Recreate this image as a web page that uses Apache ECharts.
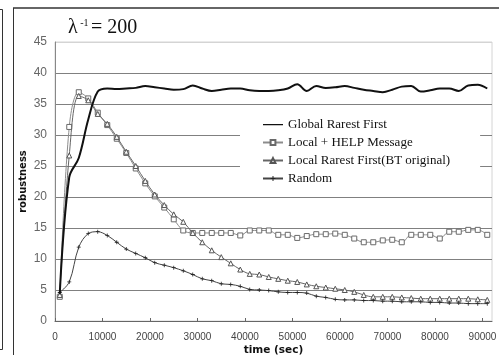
<!DOCTYPE html>
<html>
<head>
<meta charset="utf-8">
<script src="https://cdn.jsdelivr.net/npm/echarts@6/dist/echarts.min.js"></script>
<style>
  html, body { margin: 0; padding: 0; background: #fff; }
  #chart { width: 499px; height: 355px; }
</style>
</head>
<body>
<div id="chart"></div>
<script>
// sample times (sec), one point every 2000 s
const times = [1000, 3000, 5000, 7000, 9000, 11000, 13000, 15000, 17000, 19000,
  21000, 23000, 25000, 27000, 29000, 31000, 33000, 35000, 37000, 39000,
  41000, 43000, 45000, 47000, 49000, 51000, 53000, 55000, 57000, 59000,
  61000, 63000, 65000, 67000, 69000, 71000, 73000, 75000, 77000, 79000,
  81000, 83000, 85000, 87000, 89000, 91000]

const globalRarest = [4.4, 23.2, 26.3, 32.5, 37.0, 37.5, 37.4, 37.5, 37.6, 37.9,
  37.7, 37.5, 37.3, 37.4, 38.0, 37.5, 37.1, 37.3, 37.5, 37.5,
  37.2, 37.1, 37.1, 37.2, 37.5, 38.2, 37.1, 37.9, 37.6, 37.7,
  37.9, 37.6, 37.3, 37.1, 36.9, 37.3, 37.8, 37.9, 37.0, 37.2,
  37.5, 37.5, 37.1, 38.0, 38.1, 37.5]

const localHelp = [3.9, 31.3, 36.9, 35.9, 33.6, 31.6, 29.4, 27.1, 24.6, 22.2,
  20.1, 18.3, 16.4, 14.6, 14.2, 14.2, 14.2, 14.2, 14.2, 13.8,
  14.6, 14.6, 14.6, 13.9, 13.9, 13.4, 13.7, 14.0, 14.0, 14.1,
  13.9, 13.3, 12.7, 12.7, 13.0, 13.1, 12.7, 13.9, 13.9, 13.9,
  13.3, 14.4, 14.4, 14.7, 14.7, 13.9]

const localRarest = [4.2, 26.7, 36.3, 35.6, 33.4, 31.8, 29.7, 27.3, 25.0, 22.6,
  20.4, 18.7, 17.2, 16.0, 14.2, 12.7, 11.4, 10.3, 9.3, 8.3,
  7.6, 7.5, 7.1, 6.8, 6.5, 6.3, 5.9, 5.6, 5.4, 5.2,
  5.0, 4.7, 4.2, 3.9, 3.9, 3.9, 3.8, 3.7, 3.6, 3.6,
  3.6, 3.6, 3.6, 3.6, 3.5, 3.4]

const randomSel = [4.6, 6.3, 11.9, 14.1, 14.4, 13.8, 12.7, 11.6, 10.9, 10.2,
  9.4, 9.0, 8.6, 8.1, 7.5, 6.8, 6.5, 6.0, 5.9, 5.6,
  5.1, 5.0, 4.9, 4.7, 4.6, 4.6, 4.5, 4.0, 3.8, 3.5,
  3.4, 3.4, 3.3, 3.3, 3.2, 3.2, 3.1, 3.1, 3.1, 3.0,
  3.0, 2.9, 2.9, 2.8, 2.8, 2.8]

const seriesNames = ['Global Rarest First', 'Local + HELP Message', 'Local Rarest First(BT original)', 'Random']
const xTickValues = [0, 10000, 20000, 30000, 40000, 50000, 60000, 70000, 80000, 90000]

const pairs = vals => times.map((t, i) => [t, vals[i]])

const chart = echarts.init(document.getElementById('chart'))

const plusPath = 'path://M0,1.6h4v0.8h-4z M1.6,0h0.8v4h-0.8z'
// plain line for the legend (tiny corner dots keep the box at 20x6)
const lineIcon = 'path://M0,0h0.01v0.01h-0.01z M0,2.4h20v1.4h-20z M19.99,5.99h0.01v0.01h-0.01z'

const option = {
  animation: false,
  backgroundColor: '#fff',
  title: {
    left: 63,
    top: 13,
    text: '{a|λ}{b| -1 }{a|= 200}',
    textStyle: {
      fontWeight: 'normal',
      rich: {
        a: { fontFamily: 'Liberation Serif', fontWeight: 'normal', fontSize: 20, color: '#111', lineHeight: 20 },
        b: { fontFamily: 'Liberation Serif', fontWeight: 'normal', fontSize: 10, color: '#111', verticalAlign: 'top', lineHeight: 12 }
      }
    }
  },
  legend: {
    orient: 'vertical',
    left: 240,
    top: 108,
    padding: [9, 30, 8, 22],
    backgroundColor: '#fff',
    itemWidth: 20,
    itemHeight: 6,
    itemGap: 3,
    data: [
      { name: seriesNames[0], icon: lineIcon },
      { name: seriesNames[1] },
      { name: seriesNames[2] },
      { name: seriesNames[3] }
    ],
    textStyle: { fontFamily: 'Liberation Serif', fontSize: 13, color: '#111', lineHeight: 15 }
  },
  grid: {
    left: 55,
    top: 42,
    right: 7,
    bottom: 34,
    outerBoundsMode: 'none',
    show: true,
    borderColor: '#d4d4d4',
    borderWidth: 1
  },
  xAxis: {
    type: 'value',
    min: 0,
    max: 92000,
    interval: 10000,
    name: 'time (sec)',
    nameLocation: 'middle',
    nameGap: 24,
    nameMoveOverlap: false,
    nameTextStyle: { fontFamily: 'DejaVu Sans', fontWeight: 'bold', fontSize: 10.5, color: '#111' },
    axisLine: { lineStyle: { color: '#666', width: 1 } },
    axisTick: { inside: true, length: 3, lineStyle: { color: '#666' }, customValues: xTickValues },
    axisLabel: {
      customValues: xTickValues,
      formatter: v => String(v),
      fontFamily: "'Liberation Sans Narrow', 'Liberation Sans'",
      fontSize: 10,
      color: '#444',
      margin: 11
    },
    splitLine: { show: false }
  },
  yAxis: {
    type: 'value',
    min: 0,
    max: 45,
    interval: 5,
    name: 'robustness',
    nameLocation: 'middle',
    nameGap: 27,
    nameMoveOverlap: false,
    nameTextStyle: { fontFamily: 'DejaVu Sans', fontWeight: 'bold', fontSize: 10, color: '#111' },
    axisLine: { show: true, lineStyle: { color: '#888' } },
    axisTick: { show: false },
    axisLabel: { fontFamily: 'Liberation Sans', fontSize: 12, color: '#666', margin: 8 },
    splitLine: {
      lineStyle: {
        color: ['#808080', '#808080', '#808080', '#808080', '#808080', '#808080', '#808080', '#808080', '#808080', '#d4d4d4'],
        width: 1
      }
    }
  },
  series: [
    {
      name: seriesNames[0],
      type: 'line',
      data: pairs(globalRarest),
      smooth: 0.35,
      showSymbol: false,
      symbol: 'none',
      lineStyle: { color: '#111', width: 2 },
      itemStyle: { color: '#111' },
      z: 5
    },
    {
      name: seriesNames[1],
      type: 'line',
      data: pairs(localHelp),
      smooth: 0.35,
      symbol: 'rect',
      symbolSize: 5,
      lineStyle: { color: '#8c8c8c', width: 1 },
      itemStyle: { color: '#fff', borderColor: '#6a6a6a', borderWidth: 1 },
      z: 3
    },
    {
      name: seriesNames[2],
      type: 'line',
      data: pairs(localRarest),
      smooth: 0.35,
      symbol: 'triangle',
      symbolSize: 5,
      lineStyle: { color: '#666', width: 1 },
      itemStyle: { color: '#fff', borderColor: '#555', borderWidth: 1 },
      z: 4
    },
    {
      name: seriesNames[3],
      type: 'line',
      data: pairs(randomSel),
      smooth: 0.35,
      symbol: plusPath,
      symbolSize: 4,
      lineStyle: { color: '#444', width: 1 },
      itemStyle: { color: '#222' },
      z: 4
    }
  ],
  graphic: [
    // frame of the neighbouring panel at the far left
    { type: 'polyline', shape: { points: [[0, 9.5], [2.5, 9.5], [2.5, 349.5], [0, 349.5]] }, style: { stroke: '#333', lineWidth: 1, fill: null } },
    // frame of this panel
    { type: 'line', shape: { x1: 13, y1: 8, x2: 499, y2: 8 }, style: { stroke: '#666', lineWidth: 2 } },
    { type: 'line', shape: { x1: 13.5, y1: 8, x2: 13.5, y2: 355 }, style: { stroke: '#333', lineWidth: 1 } }
  ]
}

chart.setOption(option)
</script>
</body>
</html>
